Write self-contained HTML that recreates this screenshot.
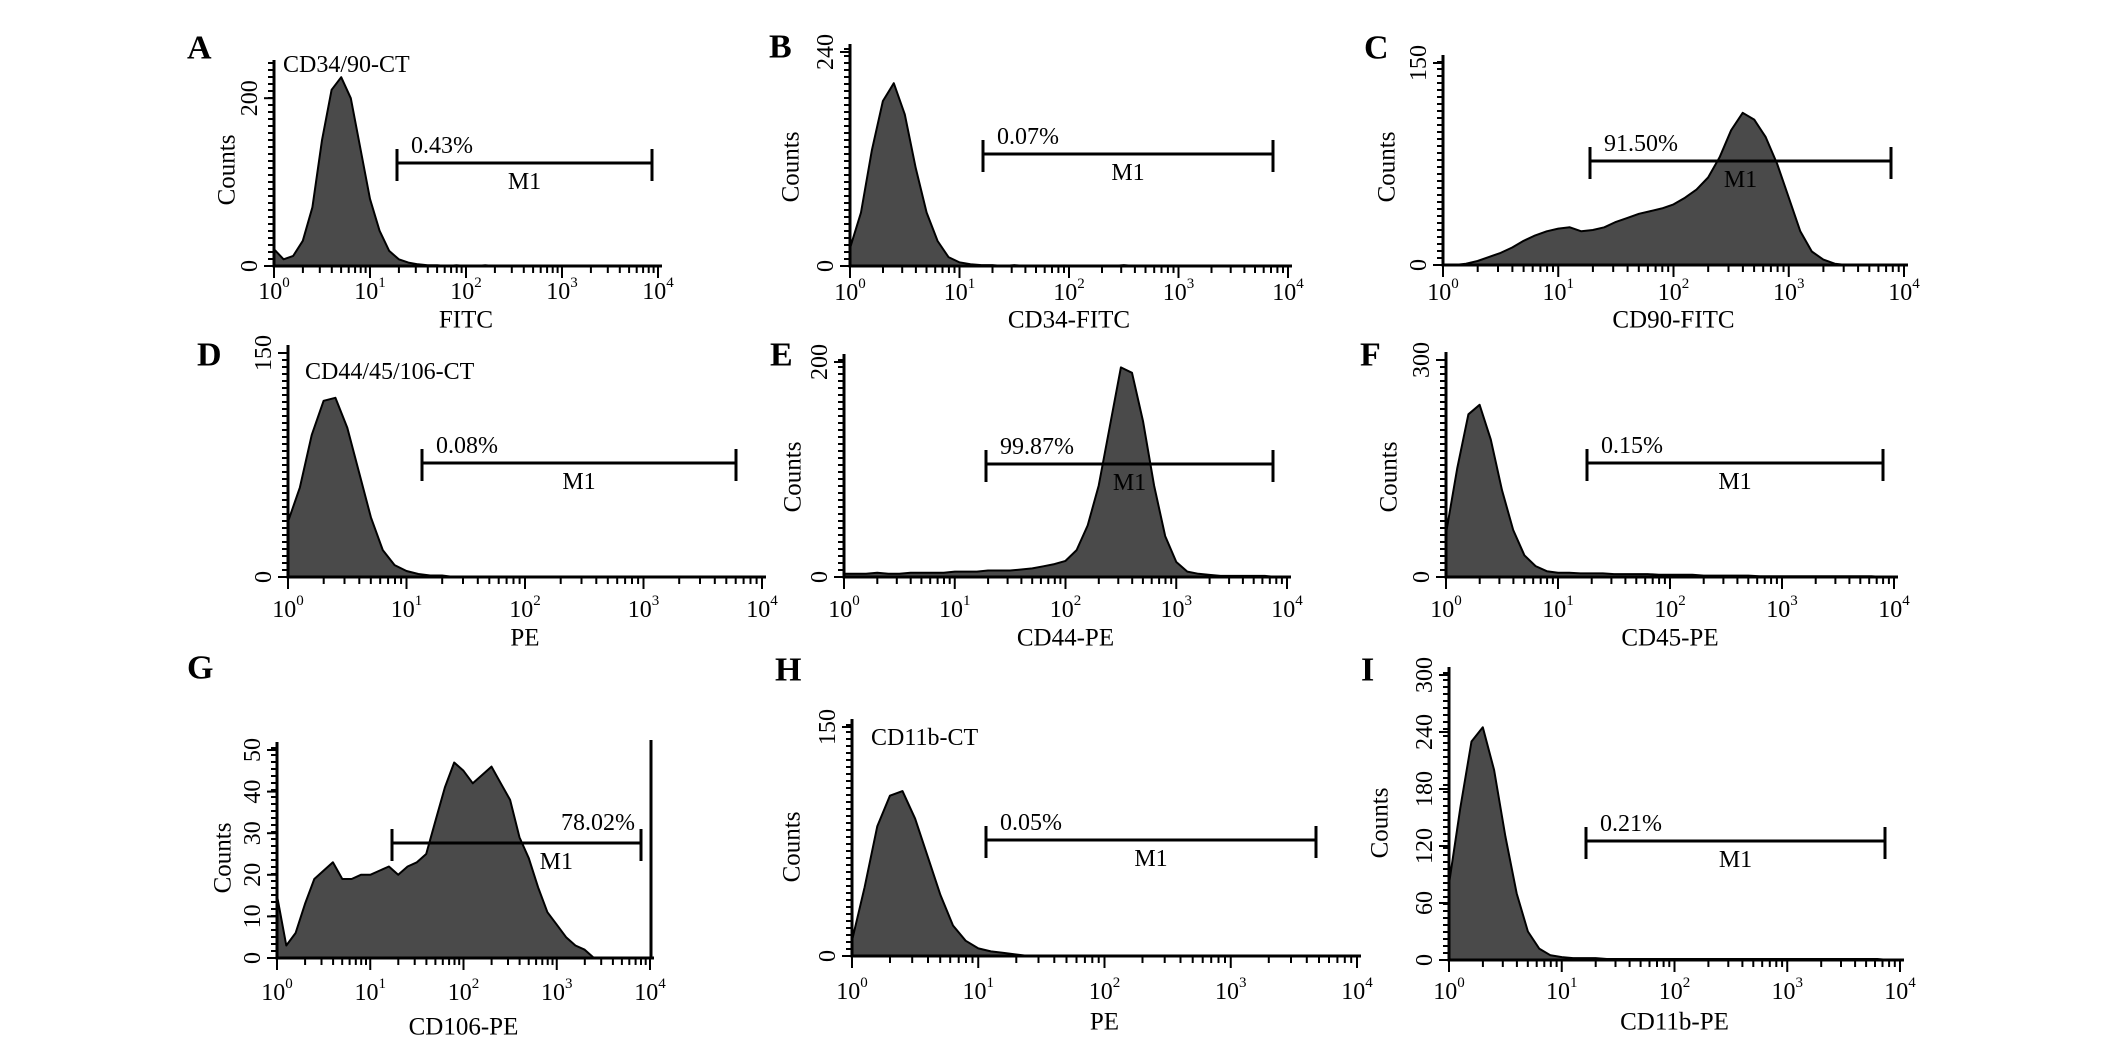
<!DOCTYPE html>
<html><head><meta charset="utf-8"><style>
html,body{margin:0;padding:0;background:#fff;}
svg{display:block;font-family:"Liberation Serif","Times New Roman",serif;}
</style></head><body>
<svg id="fig" width="2126" height="1046" viewBox="0 0 2126 1046"></svg>
<script>
// Histogram data: counts at log10 intensity 0.0,0.1,...,4.0
const countsA=[20,8,12,30,70,150,210,225,200,140,80,42,18,8,4,2,1,1,0,1,0,0,1,0,0,0,0,0,0,0,0,0,0,0,0,0,0,0,0,0,0];
const countsB=[20,60,130,185,205,170,110,60,28,10,4,2,1,1,0,1,0,0,0,0,0,0,0,0,0,1,0,0,0,0,0,0,0,0,0,0,0,0,0,0,0];
const countsC=[0,0,1,3,6,9,13,18,22,25,27,28,25,26,28,32,35,38,40,42,45,50,56,65,80,100,113,108,95,75,50,25,10,4,1,0,0,0,0,0,0];
const countsD=[37,60,95,118,120,100,70,40,18,8,4,2,1,1,0,0,0,0,0,0,0,0,0,0,0,0,0,0,0,0,0,0,0,0,0,0,0,0,0,0,0];
const countsE=[3,3,3,4,3,3,4,4,4,4,5,5,5,6,6,6,7,8,10,12,15,25,48,85,140,195,190,145,85,38,14,5,3,2,1,1,1,1,1,0,0];
const countsF=[60,150,225,238,190,120,65,30,15,8,6,6,5,5,5,4,4,4,4,3,3,3,3,2,2,2,2,2,1,1,1,1,1,1,1,1,1,1,1,0,0];
const countsG=[15,3,6,13,19,21,23,19,19,20,20,21,22,20,22,23,25,33,41,47,45,42,44,46,42,38,29,24,17,11,8,5,3,2,0,0,0,0,0,0,0];
const countsH=[10,45,85,105,108,90,65,40,20,10,5,3,2,1,0,0,0,0,0,0,0,0,0,0,0,0,0,0,0,0,0,0,0,0,0,0,0,0,0,0,0];
const countsI=[80,160,230,245,200,130,70,30,12,5,3,2,2,2,1,1,1,1,1,1,1,1,1,1,1,1,1,1,1,1,1,1,1,1,1,1,1,1,1,0,0];
const yTicksA=[0,200], yTicksB=[0,240], yTicksC=[0,150], yTicksD=[0,150], yTicksE=[0,200], yTicksF=[0,300];
const yTicksG=[0,10,20,30,40,50], yTicksH=[0,150], yTicksI=[0,60,120,180,240,300];
const decades=[0,1,2,3,4];
const pctLabels=["0.43%","0.07%","91.50%","0.08%","99.87%","0.15%","78.02%","0.05%","0.21%"];

const panels=[
 {id:'a',L:'A',lx:187,ly:48,x0:274,x1:658,yb:266,yt:68,ymax:236,d:countsA,yt2:yTicksA,g:[397,652,163],title:'CD34/90-CT',tx:283,ty:65,xl:'FITC',cnt:[227,170],tly:292,xty:320},
 {id:'b',L:'B',lx:769,ly:47,x0:850,x1:1288,yb:266,yt:52,ymax:240,d:countsB,yt2:yTicksB,g:[983,1273,154],xl:'CD34-FITC',cnt:[791,167],tly:293,xty:320},
 {id:'c',L:'C',lx:1364,ly:48,x0:1443,x1:1904,yb:265,yt:63,ymax:150,d:countsC,yt2:yTicksC,g:[1590,1891,161],xl:'CD90-FITC',cnt:[1387,167],tly:293,xty:320},
 {id:'d',L:'D',lx:197,ly:355,x0:288,x1:762,yb:577,yt:353,ymax:150,d:countsD,yt2:yTicksD,g:[422,736,463],title:'CD44/45/106-CT',tx:305,ty:372,xl:'PE',tly:610,xty:638},
 {id:'e',L:'E',lx:770,ly:355,x0:844,x1:1287,yb:577,yt:362,ymax:200,d:countsE,yt2:yTicksE,g:[986,1273,464],xl:'CD44-PE',cnt:[793,477],tly:610,xty:638},
 {id:'f',L:'F',lx:1360,ly:355,x0:1446,x1:1894,yb:577,yt:360,ymax:300,d:countsF,yt2:yTicksF,g:[1587,1883,463],xl:'CD45-PE',cnt:[1389,477],tly:610,xty:638},
 {id:'g',L:'G',lx:187,ly:668,x0:277,x1:650,yb:958,yt:750,ymax:50,d:countsG,yt2:yTicksG,g:[392,641,843],xl:'CD106-PE',cnt:[223,858],tly:993,xty:1027,pctRight:true,rline:true},
 {id:'h',L:'H',lx:775,ly:670,x0:852,x1:1357,yb:956,yt:727,ymax:150,d:countsH,yt2:yTicksH,g:[986,1316,840],title:'CD11b-CT',tx:871,ty:738,xl:'PE',cnt:[792,847],tly:992,xty:1022},
 {id:'i',L:'I',lx:1361,ly:670,x0:1449,x1:1900,yb:960,yt:675,ymax:300,d:countsI,yt2:yTicksI,g:[1586,1885,841],xl:'CD11b-PE',cnt:[1380,823],tly:992,xty:1022}
];
const NS='http://www.w3.org/2000/svg';
const svg=document.getElementById('fig');
function mk(tag,attrs,parent,text){const e=document.createElementNS(NS,tag);for(const k in attrs)e.setAttribute(k,attrs[k]);if(text!==undefined)e.textContent=text;parent.appendChild(e);return e;}
panels.forEach((p,pi)=>{
 const grp=mk('g',{},svg);
 
 
 const xs=v=>p.x0+(p.x1-p.x0)*v/4;
 const ys=v=>p.yb-(p.yb-p.yt)*v/p.ymax;
 const lt=mk('text',{x:p.lx,y:p.ly,'font-size':34,'font-weight':'bold','dominant-baseline':'central'},grp,p.L);
 
 
 let pts=xs(0)+','+ys(0);
 p.d.forEach((c,i)=>{pts+=' '+xs(i*0.1).toFixed(1)+','+ys(Math.min(c,p.ymax)).toFixed(1);});
 pts+=' '+xs(4)+','+ys(0);
 const hist=mk('polygon',{points:pts,fill:'#4a4a4a',stroke:'#000','stroke-width':2,'stroke-linejoin':'round'},grp);
 
 
 const ax=mk('path',{d:`M${p.x0},${p.yt-8}V${p.yb}H${p.x1+4}`,stroke:'#000','stroke-width':3,fill:'none'},grp);
 
 
 if(p.rline){const r=mk('line',{x1:p.x1+1,y1:p.yt-10,x2:p.x1+1,y2:p.yb,stroke:'#000','stroke-width':3},grp);
  }
 let ym='';for(let y=p.yb;y>=p.yt-6;y-=7)ym+=`M${p.x0-6},${y}H${p.x0}`;
 mk('path',{d:ym,stroke:'#000','stroke-width':2},grp);
 let xm='';
 decades.forEach(dd=>{xm+=`M${xs(dd)},${p.yb}v12`;if(dd<4)for(let m=2;m<10;m++)xm+=`M${xs(dd+Math.log10(m)).toFixed(1)},${p.yb}v7`;});
 mk('path',{d:xm,stroke:'#000','stroke-width':2},grp);
 decades.forEach(dd=>{
  const t=mk('text',{x:xs(dd),y:p.tly,'font-size':24,'text-anchor':'middle','dominant-baseline':'central'},grp);
  
  
  mk('tspan',{},t,'10');mk('tspan',{dy:-9,'font-size':15},t,String(dd));
 });
 p.yt2.forEach(v=>{
  mk('line',{x1:p.x0-10,y1:ys(v),x2:p.x0,y2:ys(v),stroke:'#000','stroke-width':2},grp);
  const t=mk('text',{x:0,y:0,'font-size':24,'text-anchor':'middle',transform:`translate(${p.x0-24},${ys(v)}) rotate(-90)`,'dominant-baseline':'central'},grp,String(v));
  
  
 });
 const xt=mk('text',{x:(p.x0+p.x1)/2,y:p.xty,'font-size':25,'text-anchor':'middle','dominant-baseline':'central'},grp,p.xl);
 
 
 if(p.cnt){const c=mk('text',{x:0,y:0,'font-size':25,'text-anchor':'middle','dominant-baseline':'central',transform:`translate(${p.cnt[0]},${p.cnt[1]}) rotate(-90)`},grp,'Counts');
  }
 if(p.title){const t=mk('text',{x:p.tx,y:p.ty,'font-size':24,'dominant-baseline':'central'},grp,p.title);
  }
 const [g0,g1,gy]=p.g;
 const gate=mk('path',{d:`M${g0},${gy}H${g1}M${g0},${gy-14}v32M${g1},${gy-14}v32`,stroke:'#000','stroke-width':3,fill:'none'},grp);
 
 
 const pt=p.pctRight?mk('text',{x:g1-6,y:gy-20,'font-size':24,'text-anchor':'end','dominant-baseline':'central'},grp,pctLabels[pi])
  :mk('text',{x:g0+14,y:gy-17,'font-size':24,'dominant-baseline':'central'},grp,pctLabels[pi]);
 
 
 const mx=p.pctRight?g0+(g1-g0)*0.66:(g0+g1)/2;
 const m1=mk('text',{x:mx,y:gy+19,'font-size':24,'text-anchor':'middle','dominant-baseline':'central'},grp,'M1');
 
 
});
</script>
</body></html>
